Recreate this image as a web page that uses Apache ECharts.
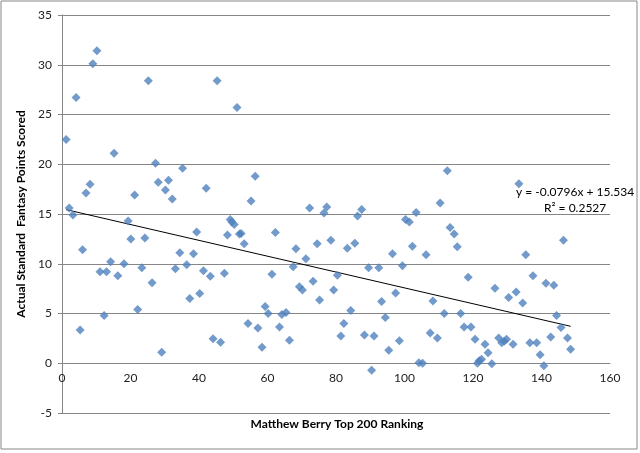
<!DOCTYPE html>
<html>
<head>
<meta charset="utf-8">
<script src="https://cdn.jsdelivr.net/npm/echarts@6/dist/echarts.min.js"></script>
<style>
  html, body { margin: 0; padding: 0; background: #fff; }
  #chart { width: 640px; height: 453px; }
</style>
</head>
<body>
<div id="chart"></div>
<script>
// Matthew Berry ranking vs actual points
const ranks = [
  1.2, 2.1, 3.2, 4.1, 5.3, 6.0, 7.0, 8.2, 9.0, 10.2,
  11.1, 12.3, 13.0, 14.2, 15.2, 16.3, 18.1, 19.3, 20.1, 21.2,
  22.1, 23.3, 24.2, 25.2, 26.3, 27.3, 28.1, 29.1, 30.2, 31.1,
  32.2, 33.1, 34.4, 35.2, 36.4, 37.3, 38.4, 39.3, 40.2, 41.3,
  42.1, 43.3, 44.1, 45.3, 46.3, 47.4, 48.3, 49.1, 49.6, 50.3,
  51.1, 51.8, 52.3, 53.2, 54.3, 55.2, 56.4, 57.2, 58.4, 59.3,
  60.2, 61.3, 62.3, 63.5, 64.2, 65.4, 66.4, 67.5, 68.3, 69.3,
  70.2, 71.2, 72.3, 73.3, 74.5, 75.2, 76.5, 77.3, 78.5, 79.3,
  80.4, 81.4, 82.3, 83.3, 84.3, 85.5, 86.3, 87.5, 88.3, 89.5,
  90.4, 91.1, 92.5, 93.3, 94.4, 95.4, 96.5, 97.4, 98.5, 99.4,
  100.3, 101.4, 102.3, 103.4, 104.2, 105.3, 106.3, 107.5, 108.3, 109.6,
  110.4, 111.6, 112.5, 113.3, 114.5, 115.4, 116.4, 117.4, 118.6, 119.4,
  120.6, 121.3, 121.8, 122.5, 123.5, 124.4, 125.5, 126.4, 127.5, 128.4,
  129.1, 129.8, 130.4, 131.7, 132.6, 133.4, 134.5, 135.4, 136.6, 137.5,
  138.6, 139.6, 140.7, 141.3, 142.7, 143.6, 144.4, 145.7, 146.4, 147.6,
  148.5
];
const points = [
  22.5, 15.6, 14.9, 26.7, 3.35, 11.4, 17.1, 18.0, 30.1, 31.4,
  9.2, 4.8, 9.2, 10.2, 21.1, 8.8, 10.0, 14.3, 12.5, 16.9,
  5.4, 9.6, 12.6, 28.4, 8.1, 20.1, 18.2, 1.1, 17.4, 18.4,
  16.5, 9.5, 11.1, 19.6, 9.9, 6.5, 11.0, 13.2, 7.0, 9.3,
  17.6, 8.75, 2.45, 28.4, 2.1, 9.05, 12.9, 14.45, 14.2, 13.95,
  25.7, 13.0, 13.05, 12.0, 4.0, 16.3, 18.8, 3.55, 1.6, 5.7,
  5.0, 8.95, 13.15, 3.65, 4.9, 5.1, 2.3, 9.7, 11.5, 7.7,
  7.35, 10.5, 15.6, 8.25, 12.0, 6.35, 15.1, 15.7, 12.35, 7.35,
  8.85, 2.75, 4.0, 11.55, 5.3, 12.05, 14.8, 15.45, 2.85, 9.6,
  -0.7, 2.75, 9.6, 6.2, 4.6, 1.3, 11.0, 7.05, 2.25, 9.8,
  14.45, 14.2, 11.75, 15.15, 0.05, 0, 10.9, 3.05, 6.25, 2.55,
  16.1, 5.0, 19.35, 13.65, 13.0, 11.7, 5.0, 3.65, 8.65, 3.65,
  2.4, 0, 0.25, 0.4, 1.9, 1.05, -0.05, 7.55, 2.55, 2.05,
  2.2, 2.4, 6.6, 1.9, 7.15, 18.05, 6.05, 10.9, 2.05, 8.8,
  2.05, 0.85, -0.25, 8.05, 2.65, 7.85, 4.8, 3.6, 12.35, 2.55,
  1.4
];

// linear trendline shown on the chart
const trendSlope = -0.0796;
const trendIntercept = 15.534;
const trendLabels = ['y = -0.0796x + 15.534', 'R\u00b2 = 0.2527'];

const xTitle = 'Matthew Berry Top 200 Ranking';
const yTitle = 'Actual Standard  Fantasy Points Scored';

const scatterData = ranks.map((r, i) => [r, points[i]]);
const xMin = Math.min(...ranks);
const xMax = Math.max(...ranks);
const trendData = [xMin, xMax].map(x => [x, trendSlope * x + trendIntercept]);

const font = 'Lato, "Liberation Sans", sans-serif';
const chart = echarts.init(document.getElementById('chart'));

// grid is 398px tall for 40 units, so the zero line sits 5 units (49.75px) above the bottom
const gridTop = 15, gridBottom = 40;
const zeroOffset = -(453 - gridTop - gridBottom) * 5 / 40;

chart.setOption({
  animation: false,
  textStyle: { fontFamily: font },
  grid: { left: 62, right: 30, top: gridTop, bottom: gridBottom, outerBoundsMode: 'none', containLabel: false },
  xAxis: {
    type: 'value',
    min: 0,
    max: 160,
    interval: 20,
    offset: zeroOffset,
    axisLine: { onZero: false, lineStyle: { color: '#868686', width: 1 } },
    axisTick: { show: false },
    axisLabel: { margin: 9, fontSize: 12, color: '#222', fontFamily: font },
    splitLine: { show: false }
  },
  yAxis: {
    type: 'value',
    min: -5,
    max: 35,
    interval: 5,
    name: yTitle,
    nameLocation: 'middle',
    nameGap: 30,
    nameTextStyle: { fontFamily: font, fontSize: 12, fontWeight: 'bold', color: '#000' },
    axisLine: { show: true, onZero: false, lineStyle: { color: '#868686', width: 1 } },
    axisTick: { show: true, inside: false, length: 4, lineStyle: { color: '#868686' } },
    axisLabel: { margin: 10, fontSize: 12, color: '#222', fontFamily: font },
    splitLine: { show: true, lineStyle: { color: '#868686', width: 1 } }
  },
  graphic: [
    {
      type: 'rect',
      shape: { x: 1, y: 1, width: 636, height: 448 },
      style: { fill: 'none', stroke: '#888', lineWidth: 1 },
      silent: true
    },
    {
      // x axis title sits under the -5 gridline, not under the zero line
      type: 'text',
      x: 337, y: 424,
      style: {
        text: xTitle, font: 'bold 12px ' + font, fill: '#000',
        textAlign: 'center', textVerticalAlign: 'middle'
      }
    },
    {
      type: 'text',
      left: 516, top: 186,
      style: { text: trendLabels[0], font: '12px ' + font, fill: '#000' }
    },
    {
      type: 'text',
      left: 544, top: 202,
      style: { text: trendLabels[1], font: '12px ' + font, fill: '#000' }
    }
  ],
  series: [
    {
      type: 'scatter',
      data: scatterData,
      symbol: 'diamond',
      symbolSize: 9,
      itemStyle: { color: '#4F81BD' },
      z: 3
    },
    {
      type: 'line',
      data: trendData,
      symbol: 'none',
      lineStyle: { color: '#000', width: 1 },
      z: 2
    }
  ]
});
</script>
</body>
</html>
